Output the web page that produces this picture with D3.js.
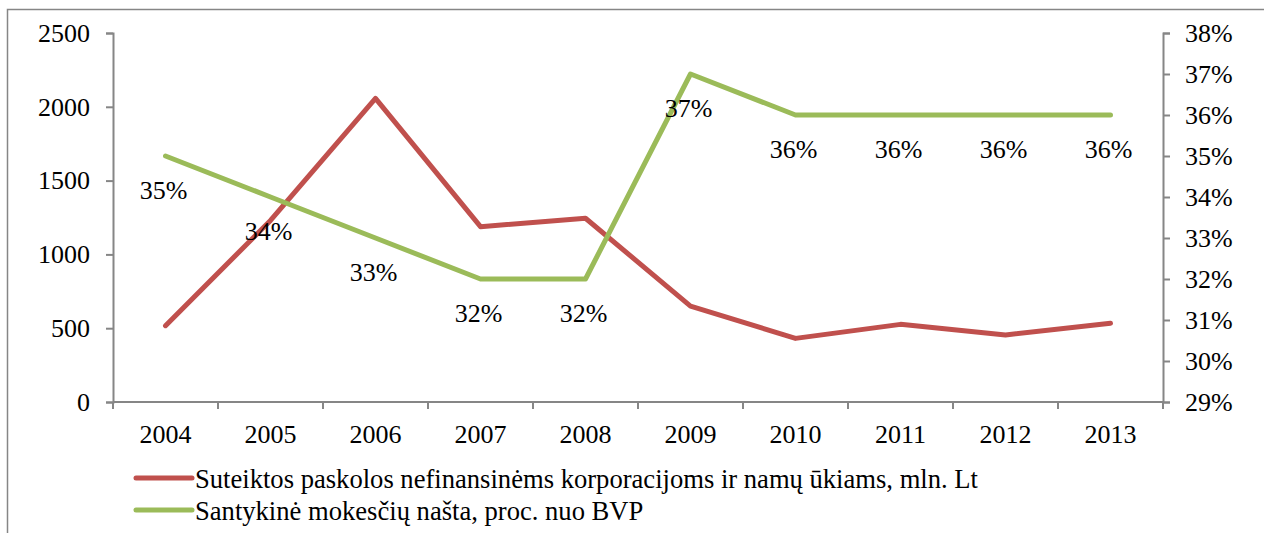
<!DOCTYPE html>
<html>
<head>
<meta charset="utf-8">
<script src="https://cdn.jsdelivr.net/npm/d3@7"></script>
<style>
  body { margin: 0; background: #fff; }
</style>
</head>
<body>
<svg id="chart" width="1264" height="533"></svg>
<script>
var years = ["2004","2005","2006","2007","2008","2009","2010","2011","2012","2013"];
var loans = [517, 1230, 2057, 1188, 1245, 650, 431, 526, 454, 533];
var taxBurden = [35, 34, 33, 32, 32, 37, 36, 36, 36, 36];
var leftTicks = [0, 500, 1000, 1500, 2000, 2500];
var rightTicks = [29, 30, 31, 32, 33, 34, 35, 36, 37, 38];
var loansName = "Suteiktos paskolos nefinansinėms korporacijoms ir namų ūkiams, mln. Lt";
var taxName = "Santykinė mokesčių našta, proc. nuo BVP";

var red = "#C0504D", green = "#9BBB59", axisCol = "#868686";
var serif = "Liberation Serif";
var fs = 26;
var svg = d3.select("#chart");

// outer chart frame
svg.append("rect").attr("x", 7.5).attr("y", 9.5).attr("width", 1300).attr("height", 600)
  .attr("fill", "none").attr("stroke", axisCol).attr("stroke-width", 1.5);

var plotL = 113, plotR = 1163, plotT = 33, plotB = 402;

var x = d3.scaleBand().domain(years).range([plotL, plotR]);
var yL = d3.scaleLinear().domain([0, 2500]).range([plotB, plotT]);
var yR = d3.scaleLinear().domain([29, 38]).range([plotB, plotT]);

function styleAxis(g) {
  g.selectAll("path").attr("stroke", axisCol).attr("stroke-width", 2);
  g.selectAll("line").attr("stroke", axisCol).attr("stroke-width", 2);
  g.selectAll("text").attr("font-family", serif).attr("font-size", fs).attr("fill", "#000");
}

svg.append("g").attr("transform", "translate(" + plotL + ",0)")
  .call(d3.axisLeft(yL).tickValues(leftTicks).tickFormat(d3.format("d")).tickSize(7).tickSizeOuter(7).tickPadding(16))
  .call(styleAxis);

svg.append("g").attr("transform", "translate(" + plotR + ",0)")
  .call(d3.axisRight(yR).tickValues(rightTicks).tickFormat(function(d) { return d + "%"; }).tickSize(7).tickSizeOuter(7).tickPadding(15))
  .call(styleAxis);

// x axis with ticks at band boundaries
var xg = svg.append("g").attr("transform", "translate(0," + plotB + ")");
xg.append("line").attr("x1", plotL).attr("x2", plotR).attr("stroke", axisCol).attr("stroke-width", 2);
var bounds = years.map(function(d) { return x(d); }).concat([plotR]);
xg.selectAll(".tk").data(bounds).enter().append("line")
  .attr("x1", function(d) { return d; }).attr("x2", function(d) { return d; })
  .attr("y1", 0).attr("y2", 7).attr("stroke", axisCol).attr("stroke-width", 2);
xg.selectAll(".lb").data(years).enter().append("text")
  .attr("x", function(d) { return x(d) + x.bandwidth() / 2; })
  .attr("y", 41).attr("text-anchor", "middle")
  .attr("font-family", serif).attr("font-size", fs)
  .text(function(d) { return d; });

var cx = function(i) { return x(years[i]) + x.bandwidth() / 2; };

var loanLine = d3.line().x(function(d, i) { return cx(i); }).y(function(d) { return yL(d); });
var taxLine = d3.line().x(function(d, i) { return cx(i); }).y(function(d) { return yR(d); });

svg.append("path").datum(loans).attr("d", loanLine)
  .attr("fill", "none").attr("stroke", red).attr("stroke-width", 5)
  .attr("stroke-linejoin", "round").attr("stroke-linecap", "round");

svg.append("path").datum(taxBurden).attr("d", taxLine)
  .attr("fill", "none").attr("stroke", green).attr("stroke-width", 5)
  .attr("stroke-linejoin", "round").attr("stroke-linecap", "round");

// data labels below green points
svg.selectAll(".dl").data(taxBurden).enter().append("text")
  .attr("x", function(d, i) { return cx(i) - 2; })
  .attr("y", function(d) { return yR(d) + 43; })
  .attr("text-anchor", "middle")
  .attr("font-family", serif).attr("font-size", fs)
  .text(function(d) { return d + "%"; });

// legend
var legend = [{ name: loansName, color: red }, { name: taxName, color: green }];
var lg = svg.selectAll(".lg").data(legend).enter().append("g")
  .attr("transform", function(d, i) { return "translate(136," + (478 + i * 32) + ")"; });
lg.append("line").attr("x1", 0).attr("x2", 56).attr("stroke", function(d) { return d.color; })
  .attr("stroke-width", 5).attr("stroke-linecap", "round");
lg.append("text").attr("x", 59).attr("y", 10)
  .attr("font-family", serif).attr("font-size", 26.6)
  .text(function(d) { return d.name; });
</script>
</body>
</html>
